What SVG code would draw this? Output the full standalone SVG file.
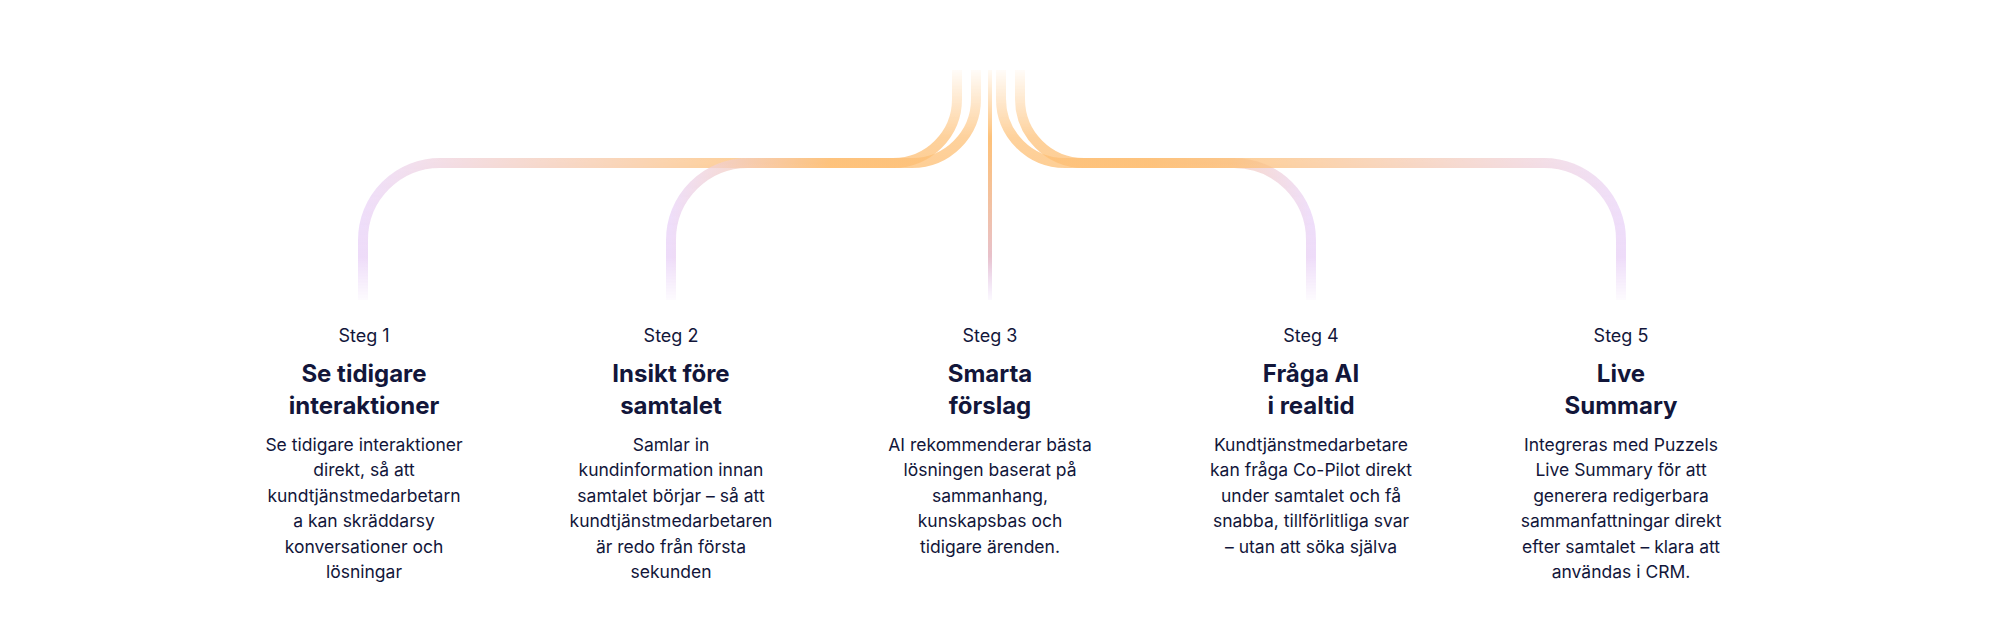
<svg xmlns="http://www.w3.org/2000/svg" width="2000" height="644" viewBox="0 0 2000 644">
<defs>
<linearGradient id="gl" gradientUnits="userSpaceOnUse" x1="363" y1="0" x2="960" y2="0"><stop offset="0" stop-color="#E8D0F7"/><stop offset="0.65" stop-color="#FDB35A"/><stop offset="1" stop-color="#FDB35A"/></linearGradient>
<linearGradient id="gr" gradientUnits="userSpaceOnUse" x1="1621" y1="0" x2="1020" y2="0"><stop offset="0" stop-color="#E8D0F7"/><stop offset="0.65" stop-color="#FDB35A"/><stop offset="1" stop-color="#FDB35A"/></linearGradient>
<linearGradient id="gli" gradientUnits="userSpaceOnUse" x1="671" y1="0" x2="900" y2="0"><stop offset="0" stop-color="#E8D0F7"/><stop offset="0.7" stop-color="#FDB35A"/><stop offset="1" stop-color="#FDB35A"/></linearGradient>
<linearGradient id="gri" gradientUnits="userSpaceOnUse" x1="1311" y1="0" x2="1080" y2="0"><stop offset="0" stop-color="#E8D0F7"/><stop offset="0.7" stop-color="#FDB35A"/><stop offset="1" stop-color="#FDB35A"/></linearGradient>
<linearGradient id="gc" gradientUnits="userSpaceOnUse" x1="0" y1="70" x2="0" y2="300"><stop offset="0" stop-color="#FDB35A"/><stop offset="0.3" stop-color="#FDB35A"/><stop offset="1" stop-color="#E0C6F5"/></linearGradient>
<linearGradient id="fade" gradientUnits="userSpaceOnUse" x1="0" y1="65" x2="0" y2="305"><stop offset="0" stop-color="#fff" stop-opacity="0"/><stop offset="0.3" stop-color="#fff" stop-opacity="0.8"/><stop offset="0.8" stop-color="#fff" stop-opacity="1"/><stop offset="1" stop-color="#fff" stop-opacity="0"/></linearGradient>
<mask id="m" maskUnits="userSpaceOnUse" x="0" y="0" width="2000" height="644"><rect x="0" y="60" width="2000" height="250" fill="url(#fade)"/></mask>
</defs>
<style>
.ln{fill:none;stroke-width:10;stroke-opacity:0.75}
.st{font-family:Inter,"Noto Sans",sans-serif;font-size:18px;fill:#12163A;text-anchor:middle}
.ti{font-family:Inter,"Noto Sans",sans-serif;font-size:24px;font-weight:700;fill:#12163A;text-anchor:middle}
.bd{font-family:Inter,"Noto Sans",sans-serif;font-size:17.5px;fill:#12163A;text-anchor:middle}
</style>
<rect width="2000" height="644" fill="#fff"/>
<g id="connectors" mask="url(#m)">
<path class="ln" stroke="url(#gl)" d="M957,70 V99 A64,64 0 0 1 893,163 H440 A77,77 0 0 0 363,240 V300"/>
<path class="ln" stroke="url(#gli)" d="M976,70 V99 A64,64 0 0 1 912,163 H748 A77,77 0 0 0 671,240 V300"/>
<path class="ln" stroke="url(#gri)" d="M1001,70 V99 A64,64 0 0 0 1065,163 H1234 A77,77 0 0 1 1311,240 V300"/>
<path class="ln" stroke="url(#gr)" d="M1020,70 V99 A64,64 0 0 0 1084,163 H1544 A77,77 0 0 1 1621,240 V300"/>
<path fill="none" stroke="url(#gc)" stroke-width="4" d="M990,70 V300"/>
</g>
<g id="step1">
<text class="st" x="364" y="342">Steg 1</text>
<text class="ti" x="364" y="382">Se tidigare</text><text class="ti" x="364" y="414">interaktioner</text>
<text class="bd" x="364" y="451">Se tidigare interaktioner</text><text class="bd" x="364" y="476">direkt, så att</text><text class="bd" x="364" y="502">kundtjänstmedarbetarn</text><text class="bd" x="364" y="527">a kan skräddarsy</text><text class="bd" x="364" y="553">konversationer och</text><text class="bd" x="364" y="578">lösningar</text>
</g>
<g id="step2">
<text class="st" x="671" y="342">Steg 2</text>
<text class="ti" x="671" y="382">Insikt före</text><text class="ti" x="671" y="414">samtalet</text>
<text class="bd" x="671" y="451">Samlar in</text><text class="bd" x="671" y="476">kundinformation innan</text><text class="bd" x="671" y="502">samtalet börjar – så att</text><text class="bd" x="671" y="527">kundtjänstmedarbetaren</text><text class="bd" x="671" y="553">är redo från första</text><text class="bd" x="671" y="578">sekunden</text>
</g>
<g id="step3">
<text class="st" x="990" y="342">Steg 3</text>
<text class="ti" x="990" y="382">Smarta</text><text class="ti" x="990" y="414">förslag</text>
<text class="bd" x="990" y="451">AI rekommenderar bästa</text><text class="bd" x="990" y="476">lösningen baserat på</text><text class="bd" x="990" y="502">sammanhang,</text><text class="bd" x="990" y="527">kunskapsbas och</text><text class="bd" x="990" y="553">tidigare ärenden.</text>
</g>
<g id="step4">
<text class="st" x="1311" y="342">Steg 4</text>
<text class="ti" x="1311" y="382">Fråga AI</text><text class="ti" x="1311" y="414">i realtid</text>
<text class="bd" x="1311" y="451">Kundtjänstmedarbetare</text><text class="bd" x="1311" y="476">kan fråga Co-Pilot direkt</text><text class="bd" x="1311" y="502">under samtalet och få</text><text class="bd" x="1311" y="527">snabba, tillförlitliga svar</text><text class="bd" x="1311" y="553">– utan att söka själva</text>
</g>
<g id="step5">
<text class="st" x="1621" y="342">Steg 5</text>
<text class="ti" x="1621" y="382">Live</text><text class="ti" x="1621" y="414">Summary</text>
<text class="bd" x="1621" y="451">Integreras med Puzzels</text><text class="bd" x="1621" y="476">Live Summary för att</text><text class="bd" x="1621" y="502">generera redigerbara</text><text class="bd" x="1621" y="527">sammanfattningar direkt</text><text class="bd" x="1621" y="553">efter samtalet – klara att</text><text class="bd" x="1621" y="578">användas i CRM.</text>
</g>
</svg>
